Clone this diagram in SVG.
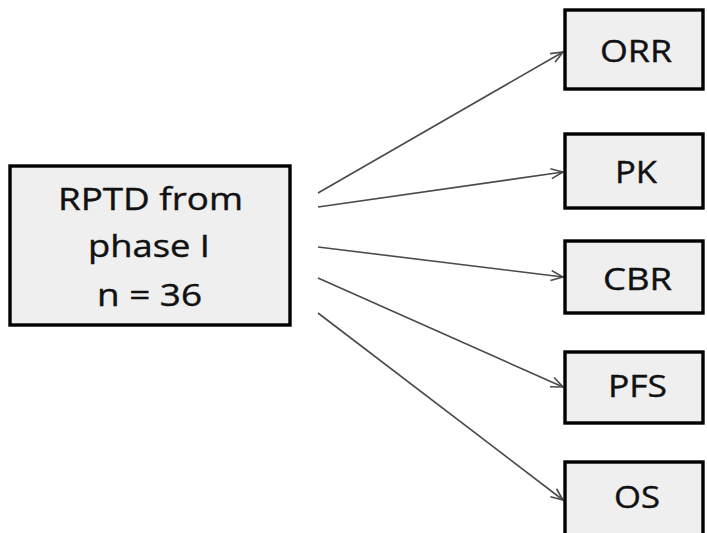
<svg xmlns="http://www.w3.org/2000/svg" width="707" height="533" viewBox="0 0 707 533">
<style>
.box{fill:#efefef;stroke:#000;stroke-width:3.4}
.t{font-family:"Open Sans","Noto Sans",sans-serif;font-size:31px;fill:#111;stroke:#111;stroke-width:0.4;text-anchor:middle}
.c{stroke:#4a4a4a;stroke-width:1.6;fill:none;marker-end:url(#a)}
</style>
<defs>
<marker id="a" viewBox="0 0 14 12" refX="13" refY="6" markerWidth="14" markerHeight="12" markerUnits="userSpaceOnUse" orient="auto">
<path d="M1,1 L13,6 L1,11" fill="none" stroke="#4a4a4a" stroke-width="1.6"/>
</marker>
</defs>
<rect width="707" height="533" fill="#fff"/>
<g id="connectors">
<line class="c" x1="318" y1="193" x2="563" y2="52"/>
<line class="c" x1="318" y1="207" x2="563" y2="172"/>
<line class="c" x1="318" y1="247" x2="563" y2="277"/>
<line class="c" x1="318" y1="278" x2="563" y2="387"/>
<line class="c" x1="318" y1="313" x2="563" y2="500"/>
</g>
<g id="rptd">
<rect class="box" x="10" y="166" width="280" height="159"/>
<text class="t" x="150.5" y="210" textLength="185" lengthAdjust="spacingAndGlyphs">RPTD from</text>
<text class="t" x="149" y="257" textLength="122" lengthAdjust="spacingAndGlyphs">phase I</text>
<text class="t" x="149.5" y="306" textLength="105" lengthAdjust="spacingAndGlyphs">n = 36</text>
</g>
<g id="orr">
<rect class="box" x="565" y="10" width="138" height="79"/>
<text class="t" x="636" y="62" textLength="72" lengthAdjust="spacingAndGlyphs">ORR</text>
</g>
<g id="pk">
<rect class="box" x="565" y="134" width="138" height="74"/>
<text class="t" x="636" y="183" textLength="42" lengthAdjust="spacingAndGlyphs">PK</text>
</g>
<g id="cbr">
<rect class="box" x="565" y="241" width="138" height="72"/>
<text class="t" x="637.5" y="290" textLength="69" lengthAdjust="spacingAndGlyphs">CBR</text>
</g>
<g id="pfs">
<rect class="box" x="565" y="352" width="138" height="71"/>
<text class="t" x="637.5" y="397" textLength="59" lengthAdjust="spacingAndGlyphs">PFS</text>
</g>
<g id="os">
<rect class="box" x="565" y="462" width="138" height="80"/>
<text class="t" x="637" y="508" textLength="46" lengthAdjust="spacingAndGlyphs">OS</text>
</g>
</svg>
